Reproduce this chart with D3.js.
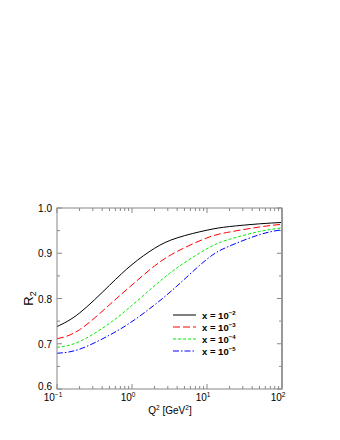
<!DOCTYPE html>
<html>
<head>
<meta charset="utf-8">
<script src="https://cdn.jsdelivr.net/npm/d3@7"></script>
<style>
body { margin: 0; background: #fff; }
svg { display: block; font-family: "Liberation Sans", Arial, sans-serif; }
</style>
</head>
<body>
<svg id="board" width="340" height="440"></svg>
<script>
let q2 = [0.1, 0.2, 0.5, 1, 2, 4, 10, 20, 50, 100]
let r2x2 = [0.738, 0.768, 0.829, 0.875, 0.911, 0.934, 0.951, 0.959, 0.965, 0.968]
let r2x3 = [0.711, 0.731, 0.786, 0.830, 0.872, 0.904, 0.934, 0.947, 0.958, 0.964]
let r2x4 = [0.692, 0.705, 0.745, 0.785, 0.828, 0.868, 0.910, 0.931, 0.948, 0.956]
let r2x5 = [0.679, 0.688, 0.719, 0.749, 0.786, 0.828, 0.887, 0.916, 0.941, 0.952]
let exps = ['-2', '-3', '-4', '-5']
let yTicks = [0.6, 0.7, 0.8, 0.9, 1.0]
let xTicks = [0.1, 1, 10, 100]
let xTickExp = ['-1', '0', '1', '2']

let series = [
    { vals: r2x2, color: '#000000', dash: null },
    { vals: r2x3, color: '#ff0000', dash: '7,3' },
    { vals: r2x4, color: '#00ee00', dash: '3,2' },
    { vals: r2x5, color: '#0000ff', dash: '6,2,1.5,2' }
]

let board = d3.select('#board')
let pLeft = 57, pRight = 282, pTop = 208, pBottom = 389

let x = d3.scaleLog().domain([0.1, 100]).range([pLeft, pRight])
let y = d3.scaleLinear().domain([0.6, 1.0]).range([pBottom, pTop])

// ticks (inward, both sides)
let minorX = []
for (let d = 0.1; d < 100; d *= 10) {
    for (let k = 2; k <= 9; k++) minorX.push(d * k)
}
let minorY = [0.65, 0.75, 0.85, 0.95]

let tickG = board.append('g').attr('stroke', '#888').attr('stroke-width', 1)
xTicks.forEach(t => {
    tickG.append('line').attr('x1', x(t)).attr('x2', x(t)).attr('y1', pBottom).attr('y2', pBottom - 5)
    tickG.append('line').attr('x1', x(t)).attr('x2', x(t)).attr('y1', pTop).attr('y2', pTop + 5)
})
minorX.forEach(t => {
    tickG.append('line').attr('x1', x(t)).attr('x2', x(t)).attr('y1', pBottom).attr('y2', pBottom - 3)
    tickG.append('line').attr('x1', x(t)).attr('x2', x(t)).attr('y1', pTop).attr('y2', pTop + 3)
})
yTicks.concat(minorY).forEach(t => {
    let len = minorY.includes(t) ? 3 : 5
    tickG.append('line').attr('x1', pLeft).attr('x2', pLeft + len).attr('y1', y(t)).attr('y2', y(t))
    tickG.append('line').attr('x1', pRight).attr('x2', pRight - len).attr('y1', y(t)).attr('y2', y(t))
})

// curves, smooth in log(Q^2)
let line = d3.line()
    .x((d, i) => x(q2[i]))
    .y(d => y(d))
    .curve(d3.curveNatural)

series.forEach(s => {
    board.append('path')
        .datum(s.vals)
        .attr('d', line)
        .attr('fill', 'none')
        .attr('stroke', s.color)
        .attr('stroke-width', 1)
        .attr('stroke-dasharray', s.dash)
})

// frame
board.append('rect')
    .attr('x', pLeft).attr('y', pTop)
    .attr('width', pRight - pLeft).attr('height', pBottom - pTop)
    .attr('fill', 'none').attr('stroke', '#888').attr('stroke-width', 1)
board.append('line')
    .attr('x1', pRight).attr('x2', pRight).attr('y1', pTop).attr('y2', pBottom)
    .attr('stroke', '#999').attr('stroke-width', 2)

// y tick labels
yTicks.forEach(t => {
    board.append('text')
        .attr('x', pLeft - 5)
        .attr('y', y(t) + (t === 0.6 ? 1 : 4))
        .attr('text-anchor', 'end')
        .attr('font-size', 10)
        .text(t.toFixed(1))
})

// x tick labels
xTicks.forEach((t, i) => {
    let tx = board.append('text')
        .attr('x', x(t) - 4)
        .attr('y', pBottom + 12)
        .attr('text-anchor', 'middle')
        .attr('font-size', 10)
    tx.append('tspan').text('10')
    tx.append('tspan').attr('dy', -4).attr('font-size', 6.5).text(xTickExp[i].replace('-', '\u2212'))
})

// axis titles
let xt = board.append('text')
    .attr('x', 170).attr('y', pBottom + 25)
    .attr('text-anchor', 'middle').attr('font-size', 10)
xt.append('tspan').text('Q')
xt.append('tspan').attr('dy', -4).attr('font-size', 6.5).text('2')
xt.append('tspan').attr('dy', 4).text(' [GeV')
xt.append('tspan').attr('dy', -4).attr('font-size', 6.5).text('2')
xt.append('tspan').attr('dy', 4).text(']')

let yt = board.append('text')
    .attr('transform', 'translate(33,' + ((pTop + pBottom) / 2) + ') rotate(-90)')
    .attr('text-anchor', 'middle').attr('font-size', 13)
yt.append('tspan').text('R')
yt.append('tspan').attr('dy', 3).attr('font-size', 9).text('2')

// legend
series.forEach((s, i) => {
    let ly = 315 + i * 12
    board.append('line')
        .attr('x1', 173).attr('x2', 196)
        .attr('y1', ly).attr('y2', ly)
        .attr('stroke', s.color).attr('stroke-width', 1)
        .attr('stroke-dasharray', s.dash)
    let lt = board.append('text')
        .attr('x', 202).attr('y', ly + 4)
        .attr('font-size', 9.5).attr('font-weight', 'bold')
    lt.append('tspan').text('x = 10')
    lt.append('tspan').attr('dy', -4).attr('font-size', 6).text(exps[i].replace('-', '\u2212'))
})
</script>
</body>
</html>
